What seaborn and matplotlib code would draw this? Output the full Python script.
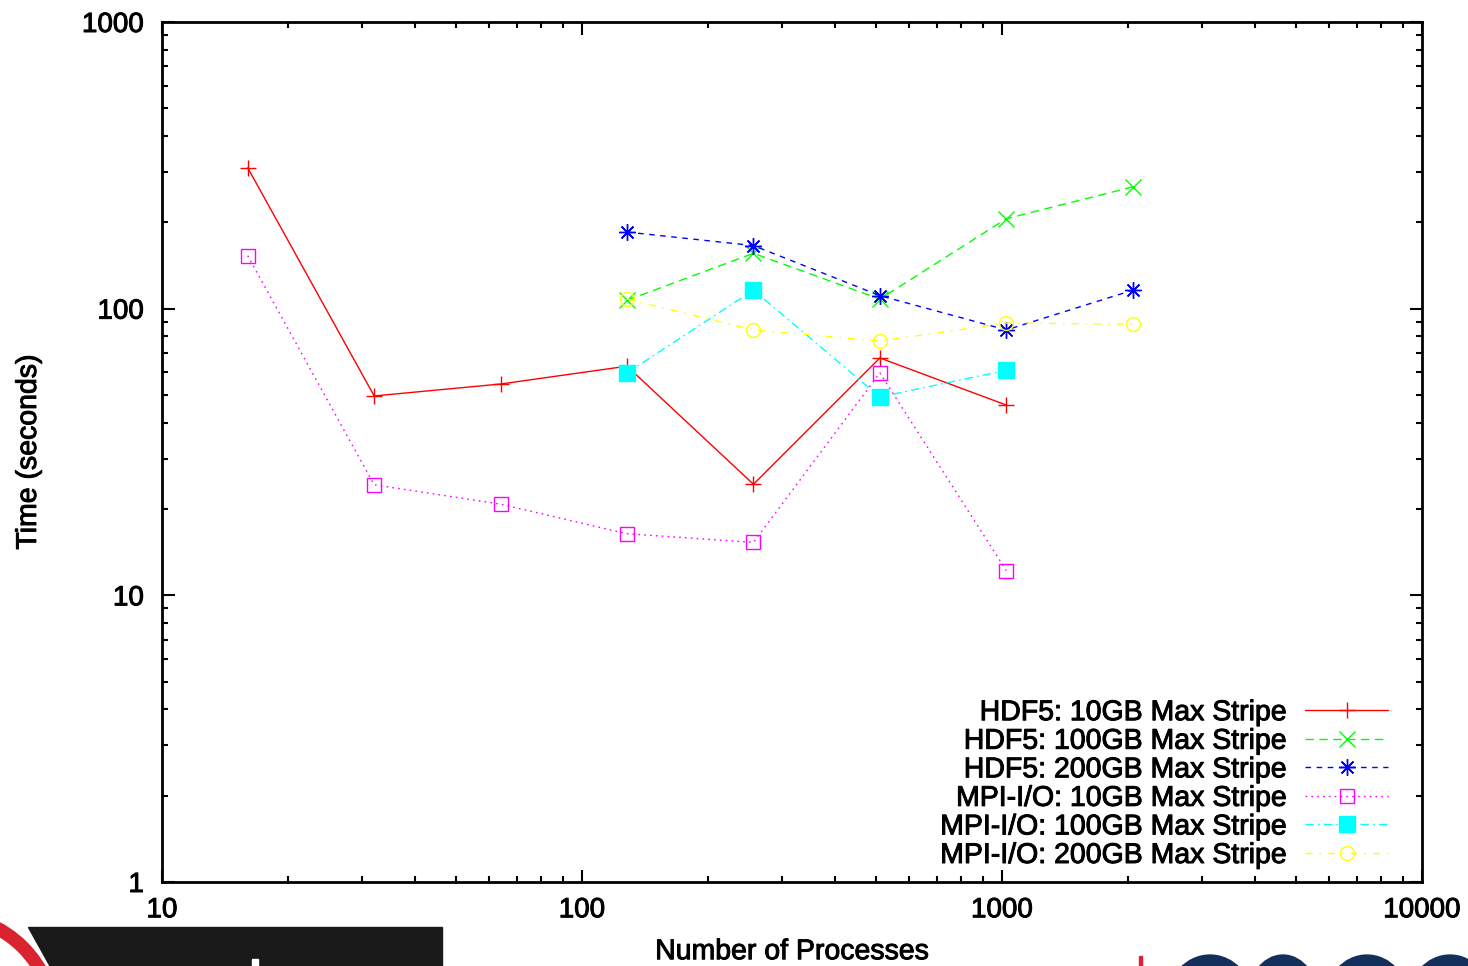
import numpy as np
import pandas as pd
import matplotlib
matplotlib.use("Agg")
import matplotlib.pyplot as plt
import matplotlib.ticker as mticker
import matplotlib.patheffects as pe
from matplotlib.patches import Wedge, Polygon, Ellipse, Rectangle
import seaborn as sns

# ---------------- data ----------------
procs_a = [16, 32, 64, 128, 256, 512, 1024]
procs_b = [128, 256, 512, 1024, 2048]
procs_c = [128, 256, 512, 1024]

hdf5_10gb = [310, 49.6, 54.6, 63, 24.4, 67.3, 46.1]
hdf5_100gb = [107, 156, 108, 206, 266]
hdf5_200gb = [185, 166, 111, 84.3, 116]
mpiio_10gb = [153, 24.3, 20.8, 16.4, 15.3, 59.7, 12.2]
mpiio_100gb = [59.7, 116, 49.2, 61]
mpiio_200gb = [108, 84.3, 77.1, 89.1, 88.3]

labels = ["HDF5: 10GB Max Stripe", "HDF5: 100GB Max Stripe", "HDF5: 200GB Max Stripe",
          "MPI-I/O: 10GB Max Stripe", "MPI-I/O: 100GB Max Stripe", "MPI-I/O: 200GB Max Stripe"]
xs_list = [procs_a, procs_b, procs_b, procs_a, procs_c, procs_b]
ys_list = [hdf5_10gb, hdf5_100gb, hdf5_200gb, mpiio_10gb, mpiio_100gb, mpiio_200gb]

x_ticks = [10, 100, 1000, 10000]
y_ticks = [1, 10, 100, 1000]

# ---------------- style ----------------
sns.set_theme(style="white")
plt.rcParams['font.family'] = ['Liberation Sans', 'DejaVu Sans']
plt.rcParams['text.color'] = 'black'
plt.rcParams['axes.labelcolor'] = 'black'
plt.rcParams['xtick.color'] = 'black'
plt.rcParams['ytick.color'] = 'black'

colors = ["#ff0000", "#00ff00", "#0000ff", "#ff00ff", "#00ffff", "#ffff00"]
markers = ["+", "x", (8, 2, 0), "s", "s", "o"]
mfcs = ["none", "none", "none", "none", "#00ffff", "none"]
msizes = [11, 11, 12, 10, 11, 10]
dashes = [(None, None), (6, 4), (4, 4), (1.2, 3), (6, 3, 1.2, 3), (5, 5, 1.2, 5)]

W, H, DPI = 1468, 966, 100
fig = plt.figure(figsize=(W / DPI, H / DPI), dpi=DPI)

# decorative background (logos cut off at the bottom of the slide)
bg = fig.add_axes([0, 0, 1, 1], zorder=-5)
bg.set_xlim(0, W)
bg.set_ylim(H, 0)
bg.axis("off")
bg.add_patch(Wedge((-55, 1025), 116, 0, 360, width=12, color="#d9232e"))
bg.add_patch(Polygon([(28, 927), (442, 927), (442, 970), (52, 970)], closed=True,
                     color="#1b1a1a"))
bg.add_patch(Rectangle((252, 959), 6, 10, color="white"))
bg.add_patch(Rectangle((1139, 956), 2.5, 12, color="#e0203a"))
for cx, w in [(1210, 72), (1283, 58), (1367, 70), (1450, 70)]:
    bg.add_patch(Ellipse((cx, 1002), w, 80, facecolor="none", edgecolor="#13305c", lw=11))

left, right, top, bottom = 162, 1422, 22, 882
ax = fig.add_axes([left / W, 1 - bottom / H, (right - left) / W, (bottom - top) / H])

for xs, ys, lab, c, m, mfc, ms, d in zip(xs_list, ys_list, labels, colors, markers,
                                          mfcs, msizes, dashes):
    sns.lineplot(x=xs, y=ys, ax=ax, color=c, marker=m, ms=ms, mec=c, mfc=mfc, mew=1.0,
                 lw=1.0, errorbar=None, label=lab, sort=False)
    line = ax.get_lines()[-1]
    if d[0] is None:
        line.set_linestyle("-")
    else:
        line.set_dashes(d)

ax.set_xscale("log")
ax.set_yscale("log")
ax.set_xlim(10, 10000)
ax.set_ylim(1, 1000)
ax.set_xticks(x_ticks)
ax.set_yticks(y_ticks)
ax.xaxis.set_major_formatter(mticker.FuncFormatter(lambda v, p: f"{v:g}"))
ax.yaxis.set_major_formatter(mticker.FuncFormatter(lambda v, p: f"{v:g}"))
ax.xaxis.set_minor_locator(mticker.LogLocator(base=10, subs=np.arange(2, 10)))
ax.yaxis.set_minor_locator(mticker.LogLocator(base=10, subs=np.arange(2, 10)))
ax.xaxis.set_minor_formatter(mticker.NullFormatter())
ax.yaxis.set_minor_formatter(mticker.NullFormatter())

for s in ax.spines.values():
    s.set_linewidth(2.0)
    s.set_color("black")
ax.tick_params(which="major", direction="in", length=9, width=1.5,
               top=True, right=True, bottom=True, left=True,
               labelsize=20, colors="black")
ax.tick_params(which="minor", direction="in", length=4.5, width=1.5,
               top=True, right=True, bottom=True, left=True, colors="black")
ax.tick_params(axis="y", which="major", pad=13)
ax.tick_params(axis="x", which="major", pad=11)

ax.set_xlabel("Number of Processes", fontsize=20.5, color="black")
ax.set_ylabel("Time (seconds)", fontsize=20.5, color="black")
ax.yaxis.label.set_va("center")
ax.yaxis.set_label_coords(-0.1056, 0.5)
ax.xaxis.set_label_coords(0.5, -0.0665)

handles = ax.get_lines()
leg = ax.legend(handles=handles, labels=labels, loc="lower right",
                bbox_to_anchor=(1388 / W, 1 - 869 / H), bbox_transform=fig.transFigure,
                frameon=False, fontsize=20.5, markerfirst=False, handlelength=2.9,
                handletextpad=0.65, labelspacing=0.09, borderpad=0, borderaxespad=0,
                numpoints=1)

# slightly heavier text like the reference rendering
stroke = [pe.withStroke(linewidth=0.7, foreground="black")]
texts = list(leg.get_texts()) + ax.get_xticklabels() + ax.get_yticklabels() + \
    [ax.xaxis.label, ax.yaxis.label]
for t in texts:
    t.set_color("black")
    t.set_path_effects(stroke)

fig.savefig("out.png", dpi=DPI)
